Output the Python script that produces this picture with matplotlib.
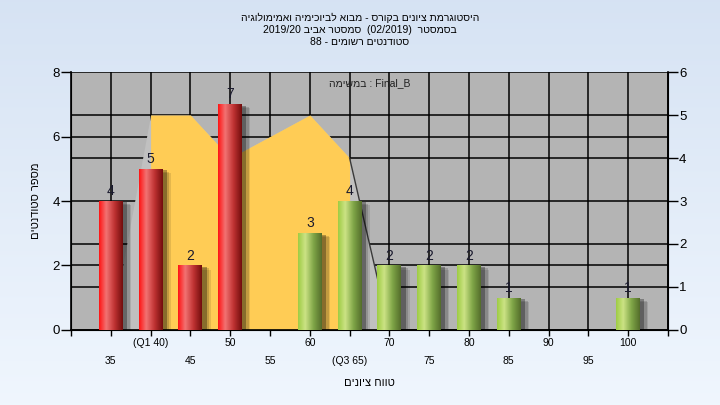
import numpy as np
import matplotlib
matplotlib.use("Agg")
import matplotlib.pyplot as plt
import matplotlib.patheffects as pe

plt.rcParams["font.family"] = ["Liberation Sans", "DejaVu Sans"]


def rtl(s):
    # matplotlib has no bidi support, so Hebrew runs are flipped for display
    return s[::-1]


# histogram bins and student counts
grades = [35, 40, 45, 50, 55, 60, 65, 70, 75, 80, 85, 90, 95, 100]
counts = [4, 5, 2, 7, 0, 3, 4, 2, 2, 2, 1, 0, 0, 1]
pass_grade = 55

# area series on the right axis
curve_x = [35, 40, 45, 50, 55, 60, 65, 70]
curve_y = [0, 5, 5, 4, 4.5, 5, 4, 0]
q1, q3 = 40, 65

row1_ticks = [40, 50, 60, 70, 80, 90, 100]
row1_labels = ["(Q1 40)", "50", "60", "70", "80", "90", "100"]
row2_ticks = [30, 35, 45, 55, 65, 75, 85, 95, 105]
row2_labels = ["", "35", "45", "55", "(Q3 65)", "75", "85", "95", ""]

title_lines = [
    rtl("היסטוגרמת ציונים בקורס - מבוא לביוכימיה ואמימולוגיה"),
    "2019/20 " + rtl("סמסטר אביב") + "  (02/2019)  " + rtl("בסמסטר"),
    "88 - " + rtl("סטודנטים רשומים"),
]
task_label = rtl("במשימה") + " : Final_B"
xlabel = rtl("טווח ציונים")
ylabel = rtl("מספר סטודנטים")

fig = plt.figure(figsize=(7.2, 4.05), dpi=100)

# light blue gradient background
bg = fig.add_axes([0, 0, 1, 1], zorder=-10)
grad = np.linspace(0, 1, 256)[:, None, None]
top = np.array([0.84, 0.89, 0.955])
bot = np.array([0.94, 0.965, 0.995])
bg.imshow(top + (bot - top) * grad, aspect="auto", extent=[0, 1, 0, 1])
bg.set_axis_off()

# ax: area series + grid, y axis on the right (0-6)
ax = fig.add_axes([0.0986, 0.1852, 0.8292, 0.637])
ax2 = ax.twinx()
ax.yaxis.tick_right()
ax2.yaxis.tick_left()
ax2.yaxis.set_label_position("left")

ax.set_facecolor("#b4b4b4")
ax.set_xlim(30, 105)
ax.set_ylim(0, 6)
ax.set_yticks(range(7))
ax.set_yticks([1.5, 4.5], minor=True)
ax.tick_params(axis="y", which="major", length=7, width=1, pad=1, labelsize=9.5)
ax.tick_params(axis="y", which="minor", length=0)

ax.set_xticks(row1_ticks)
ax.set_xticklabels(row1_labels)
ax.set_xticks(row2_ticks, minor=True)
ax.set_xticklabels(row2_labels, minor=True)
ax.tick_params(axis="x", which="major", length=4, width=1, pad=2, labelsize=7.5)
ax.tick_params(axis="x", which="minor", length=4, width=1, pad=14.5, labelsize=7.5)

ax.set_axisbelow(True)
ax.grid(True, which="both", color="black", lw=1.1)
ax.set_xlabel(xlabel, fontsize=8, labelpad=9)
ax.spines["top"].set_visible(False)
for side in ["left", "bottom", "right"]:
    ax.spines[side].set_linewidth(1.2)

cx = np.array(curve_x, dtype=float)
cy = np.array(curve_y, dtype=float)
ax.fill_between(cx, cy, color="#c0c0c0", zorder=1.5, lw=0)
iqr = (cx >= q1) & (cx <= q3)
ax.fill_between(cx[iqr], cy[iqr], color="#ffcc55", zorder=1.6, lw=0)
ax.plot(cx[-2:], cy[-2:], color="#3a3a3a", lw=1, zorder=1.7)

# ax2: bars, y axis on the left (0-8)
ax2.set_ylim(0, 8)
ax2.set_yticks([0, 2, 4, 6, 8])
ax2.tick_params(axis="y", length=7, width=1, pad=1, labelsize=9.5)
ax2.set_ylabel(ylabel, fontsize=8, labelpad=8)
ax2.spines["top"].set_visible(False)

red_stops = np.array([[1.0, 0.08, 0.08], [0.95, 0.45, 0.45], [0.75, 0.2, 0.2], [0.45, 0.05, 0.05]])
green_stops = np.array([[0.62, 0.8, 0.27], [0.8, 0.89, 0.52], [0.5, 0.65, 0.28], [0.33, 0.43, 0.17]])
pos = [0, 0.3, 0.65, 1]
u = np.linspace(0, 1, 64)


def cylinder(stops):
    cols = np.stack([np.interp(u, pos, stops[:, k]) for k in range(3)], axis=-1)
    return cols[None, :, :]


shade = [pe.SimplePatchShadow(offset=(6, -3), shadow_rgbFace="black", alpha=0.1),
         pe.SimplePatchShadow(offset=(5, -2), shadow_rgbFace="black", alpha=0.15),
         pe.SimplePatchShadow(offset=(3, -1), shadow_rgbFace="black", alpha=0.3),
         pe.Normal()]

xs = [g for g, c in zip(grades, counts) if c > 0]
hs = [c for c in counts if c > 0]
bars = ax2.bar(xs, hs, width=3, color="#888888", zorder=3)
for b, g in zip(bars, xs):
    b.set_path_effects(shade)
    img = cylinder(red_stops if g < pass_grade else green_stops)
    im = ax2.imshow(img, aspect="auto", zorder=3.5,
                    extent=[b.get_x(), b.get_x() + b.get_width(), 0, b.get_height()])
    im.set_clip_path(b)
ax2.bar_label(bars, padding=2, fontsize=10, color="#1a1a2e")
ax2.set_xlim(30, 105)
ax2.set_ylim(0, 8)

ax2.text(0.5, 0.955, task_label, transform=ax2.transAxes, ha="center", va="center",
         fontsize=7.5, color="#202020")

for i, line in enumerate(title_lines):
    fig.text(0.5, 1 - (18 + 12 * i) / 405, line, ha="center", va="center", fontsize=7.5)

fig.savefig("out.png", dpi=100)
